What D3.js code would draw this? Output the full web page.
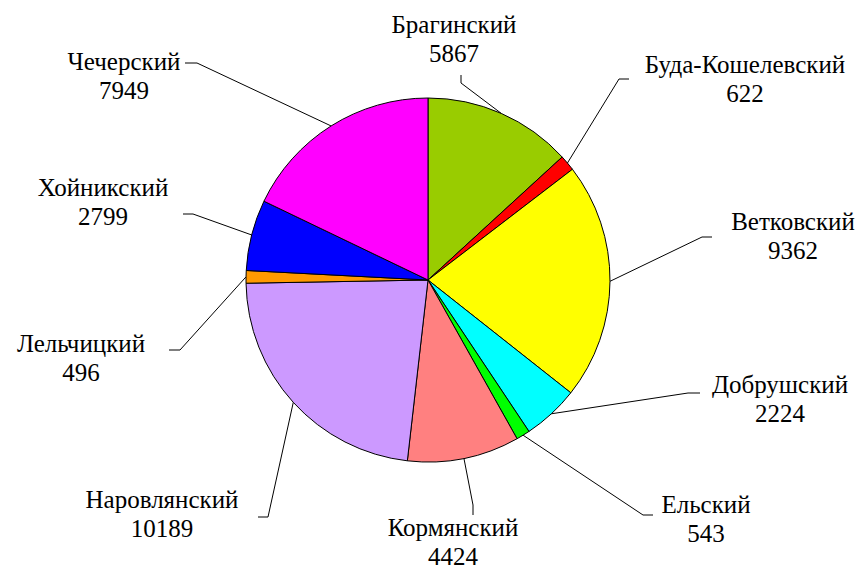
<!DOCTYPE html>
<html><head><meta charset="utf-8"><script src="https://cdn.jsdelivr.net/npm/d3@7"></script></head>
<body style="margin:0">
<script>
// districts, clockwise from 12 o'clock
const names = ['Брагинский', 'Буда-Кошелевский', 'Ветковский', 'Добрушский', 'Ельский',
  'Кормянский', 'Наровлянский', 'Лельчицкий', 'Хойникский', 'Чечерский'];
const values = [5867, 622, 9362, 2224, 543, 4424, 10189, 496, 2799, 7949];
const colors = ['#99cc00', '#ff0000', '#ffff00', '#00ffff', '#00ff00',
  '#ff8080', '#cc99ff', '#ff9900', '#0000ff', '#ff00ff'];

// label layout: text centre x, name baseline y, leader elbow and its short end
const labelX = [454, 745, 793, 780, 706, 453, 162, 81, 103, 124];
const labelY = [33, 73, 230, 393, 513, 536, 508, 352, 196, 70];
const elbow = [[461, 83], [619, 79], [702, 237], [688, 393], [643, 515],
  [473, 505], [268, 517], [180, 350], [193, 214], [197, 63]];
const tail = [[461, 75], [629, 79], [712, 237], [700, 393], [653, 515],
  [473, 515], [258, 517], [169, 350], [183, 214], [185, 63]];

const W = 859, H = 570;
const cx = 428, cy = 280, r = 182;

const svg = d3.select('body').append('svg').attr('width', W).attr('height', H);
const g = svg.append('g').attr('transform', `translate(${cx},${cy})`);

const pie = d3.pie().sort(null).value(d => d);
const arcs = pie(values);
const arc = d3.arc().innerRadius(0).outerRadius(r);

g.selectAll('path').data(arcs).enter().append('path')
  .attr('d', arc)
  .attr('fill', (d, i) => colors[i])
  .attr('stroke', '#000')
  .attr('stroke-width', 1);

// leader lines from the rim at mid-angle
function rimPoint(d) {
  const a = (d.startAngle + d.endAngle) / 2;
  return [cx + r * Math.sin(a), cy - r * Math.cos(a)];
}

svg.selectAll('polyline').data(arcs).enter().append('polyline')
  .attr('points', (d, i) => [rimPoint(d), elbow[i], tail[i]].map(p => p.join(',')).join(' '))
  .attr('fill', 'none')
  .attr('stroke', '#000')
  .attr('stroke-width', 1);

// name line and value line of each label
const lines = [];
arcs.forEach((d, i) => {
  lines.push({ x: labelX[i], y: labelY[i], t: names[i] });
  lines.push({ x: labelX[i], y: labelY[i] + 29, t: String(values[i]) });
});

svg.selectAll('text').data(lines).enter().append('text')
  .attr('x', d => d.x).attr('y', d => d.y)
  .attr('text-anchor', 'middle')
  .attr('font-family', "'Liberation Serif'")
  .attr('font-size', 25)
  .style('font-family', "'Liberation Serif', 'Times New Roman', Tinos")
  .style('font-size', '25px')
  .text(d => d.t);
</script>
</body></html>
